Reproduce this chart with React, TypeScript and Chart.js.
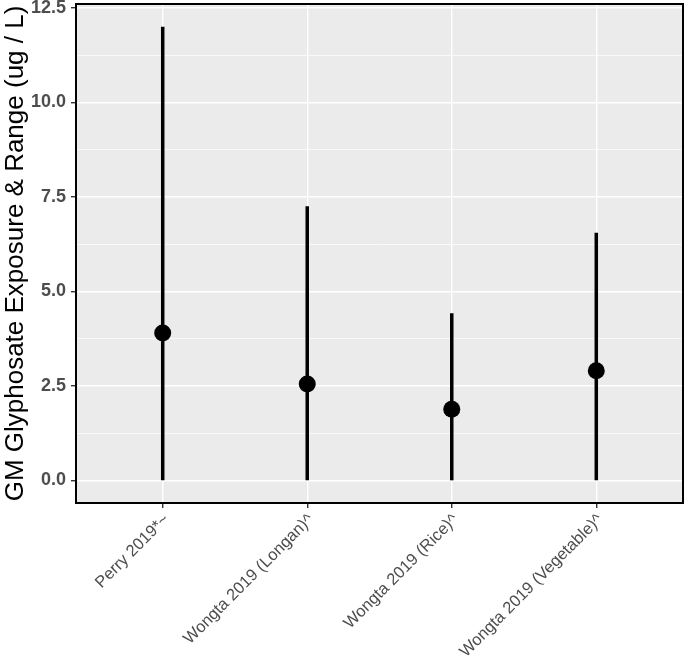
import React, { useEffect, useRef } from "react";
import { Chart, registerables } from "chart.js";

Chart.register(...registerables);

const categories = [
  "Perry 2019*~",
  "Wongta 2019 (Longan)^",
  "Wongta 2019 (Rice)^",
  "Wongta 2019 (Vegetable)^",
];
const gmValues = [3.9, 2.55, 1.88, 2.9];
const rangeLow = [0, 0, 0, 0];
const rangeHigh = [12.0, 7.25, 4.42, 6.55];
const yMajorTicks = [0, 2.5, 5, 7.5, 10, 12.5];
const yMinorTicks = [1.25, 3.75, 6.25, 8.75, 11.25];
const yTitle = "GM Glyphosate Exposure & Range (ug / L)";

const panelPlugin = {
  id: "panel",
  beforeDraw(chart: any) {
    const { ctx, chartArea } = chart;
    ctx.save();
    ctx.fillStyle = "#EBEBEB";
    ctx.fillRect(chartArea.left, chartArea.top, chartArea.right - chartArea.left, chartArea.bottom - chartArea.top);
    ctx.restore();
  },
  afterDraw(chart: any) {
    const { ctx, chartArea } = chart;
    ctx.save();
    ctx.strokeStyle = "#000000";
    ctx.lineWidth = 2;
    ctx.strokeRect(chartArea.left, chartArea.top, chartArea.right - chartArea.left, chartArea.bottom - chartArea.top);
    ctx.restore();
  },
};

export default function App() {
  const ref = useRef<HTMLCanvasElement | null>(null);
  useEffect(() => {
    if (!ref.current) return;
    const rangeSets = categories.map((c, i) => ({
      label: c + " range",
      data: [
        { x: i, y: rangeLow[i] },
        { x: i, y: rangeHigh[i] },
      ],
      showLine: true,
      borderColor: "#000000",
      borderWidth: 3.5,
      pointRadius: 0,
      pointHoverRadius: 0,
      borderCapStyle: "butt",
    }));
    const pointSet = {
      label: "GM",
      data: gmValues.map((v, i) => ({ x: i, y: v })),
      showLine: false,
      pointRadius: 8.5,
      pointBackgroundColor: "#000000",
      pointBorderColor: "#000000",
      pointBorderWidth: 0,
    };
    const allY = [...yMajorTicks, ...yMinorTicks].sort((a, b) => a - b);
    const chart = new Chart(ref.current, {
      type: "scatter",
      data: { datasets: [...rangeSets, pointSet] as any },
      plugins: [panelPlugin],
      options: {
        animation: false,
        responsive: false,
        maintainAspectRatio: false,
        events: [],
        layout: { autoPadding: false, padding: { left: 0, top: 4, right: 2, bottom: 0 } },
        plugins: { legend: { display: false }, tooltip: { enabled: false } },
        scales: {
          x: {
            type: "linear",
            min: -0.6,
            max: 3.6,
            afterBuildTicks: (s: any) => {
              s.ticks = categories.map((_, i) => ({ value: i }));
            },
            afterFit: (s: any) => {
              s.height = 153;
              s.paddingLeft = 0;
              s.paddingRight = 0;
            },
            border: { display: false },
            grid: {
              color: "#FFFFFF",
              lineWidth: 1.4,
              tickColor: "#333333",
              tickLength: 5,
              tickWidth: 1.4,
            },
            ticks: {
              autoSkip: false,
              minRotation: 45,
              maxRotation: 45,
              padding: 2,
              labelOffset: 4,
              color: "#4D4D4D",
              font: { family: "Liberation Sans, Arial, sans-serif", size: 16.5 },
              callback: (v: any) => categories[Math.round(v)] ?? "",
            },
          },
          y: {
            type: "linear",
            min: -0.6,
            max: 12.6,
            afterBuildTicks: (s: any) => {
              s.ticks = allY.map((v) => ({ value: v }));
            },
            afterFit: (s: any) => {
              s.width = 76;
              s.paddingTop = 0;
              s.paddingBottom = 0;
            },
            border: { display: false },
            grid: {
              color: "#FFFFFF",
              lineWidth: (c: any) => (yMajorTicks.includes(c.tick?.value) ? 1.4 : 0.7),
              tickColor: (c: any) => (yMajorTicks.includes(c.tick?.value) ? "#333333" : "rgba(0,0,0,0)"),
              tickLength: 5,
              tickWidth: 1.4,
            },
            title: {
              display: true,
              text: yTitle,
              color: "#000000",
              padding: { top: 0, bottom: 0 },
              font: { family: "Liberation Sans, Arial, sans-serif", size: 26 },
            },
            ticks: {
              autoSkip: false,
              padding: 5,
              color: "#4D4D4D",
              font: { family: "Liberation Sans, Arial, sans-serif", size: 18, weight: "bold" },
              callback: (v: any) => (yMajorTicks.includes(v) ? Number(v).toFixed(1) : ""),
            },
          },
        },
      } as any,
    });
    return () => chart.destroy();
  }, []);
  return (
    <div style={{ position: "absolute", left: 0, top: 0, width: 685, height: 656, background: "#fff" }}>
      <canvas ref={ref} width={685} height={656} style={{ width: 685, height: 656 }} />
    </div>
  );
}
